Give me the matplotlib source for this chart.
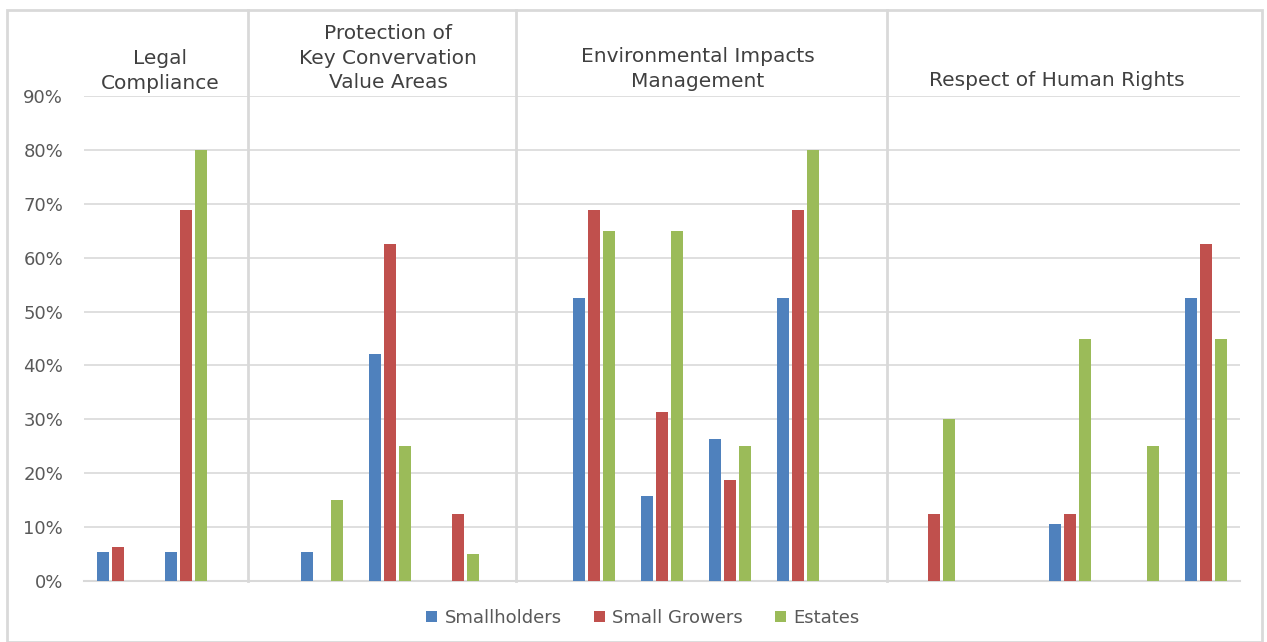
import matplotlib
matplotlib.use("Agg")
import matplotlib.pyplot as plt
import numpy as np
from matplotlib.patches import Rectangle

plt.rcParams["font.family"] = ["DejaVu Sans"]

BLUE = "#4F81BD"
RED = "#C0504D"
GREEN = "#9BBB59"
GRID = "#d9d9d9"
TICK = "#595959"
TITLE = "#404040"

# 17 category slots (empty slots separate the sections)
smallholders = [5.3, 5.3, 0, 5.3, 42.1, 0, 0, 52.6, 15.8, 26.3, 52.6, 0, 0, 0, 10.5, 0, 52.6]
small_growers = [6.3, 68.8, 0, 0, 62.5, 12.5, 0, 68.8, 31.3, 18.8, 68.8, 0, 12.5, 0, 12.5, 0, 62.5]
estates = [0, 80, 0, 15, 25, 5, 0, 65, 65, 25, 80, 0, 30, 0, 45, 25, 45]
series_names = ["Smallholders", "Small Growers", "Estates"]
sections = ["Legal\nCompliance", "Protection of\nKey Convervation\nValue Areas",
            "Environmental Impacts\nManagement", "Respect of Human Rights"]

W, H = 1267, 642
fig = plt.figure(figsize=(W / 100, H / 100), dpi=100)
ax = fig.add_axes([84 / W, (H - 581) / H, (1240 - 84) / W, (581 - 96) / H])

x = np.arange(len(smallholders))
step, bw = 0.22, 0.176
for off, vals, col, name in [(-step, smallholders, BLUE, series_names[0]),
                             (0, small_growers, RED, series_names[1]),
                             (step, estates, GREEN, series_names[2])]:
    ax.bar(x + off, np.array(vals) / 100, width=bw, color=col, lw=0, label=name, zorder=3)

ax.set_xlim(-0.5, len(x) - 0.5)
ax.set_ylim(0, 0.9)
ax.set_yticks(np.arange(0, 0.91, 0.1))
ax.set_yticklabels([f"{int(round(v * 100))}%" for v in np.arange(0, 0.91, 0.1)],
                   fontsize=13, color=TICK)
ax.tick_params(axis="y", length=0, pad=15)
ax.set_xticks([])
ax.grid(axis="y", color=GRID, lw=1.2, zorder=0)
for s in ["top", "right", "left"]:
    ax.spines[s].set_visible(False)
ax.spines["bottom"].set_color(GRID)
ax.spines["bottom"].set_linewidth(1.5)

# section dividers, running up to the chart frame
for xd in [1.91, 5.85, 11.31]:
    ax.axvline(xd, ymin=0, ymax=(581 - 10) / (581 - 96), color=GRID, lw=2, clip_on=False, zorder=1)

# section headings
for label, px, py in zip(sections, [160, 388, 698, 1057], [71, 58, 69, 80]):
    fig.text(px / W, 1 - py / H, label, ha="center", va="center", fontsize=14.5,
             color=TITLE, linespacing=1.35)

# outer chart frame
fig.patches.append(Rectangle((7 / W, 0), (1262 - 7) / W, 1 - 10 / H, transform=fig.transFigure,
                             fill=False, edgecolor=GRID, lw=2))

fig.legend(loc="center", bbox_to_anchor=(643 / W, 1 - 618 / H), ncol=3, frameon=False,
           fontsize=13, handlelength=0.6, handleheight=0.6, handletextpad=0.4,
           columnspacing=1.8, labelcolor=TICK)

fig.savefig("out.png", dpi=100, facecolor="white")
